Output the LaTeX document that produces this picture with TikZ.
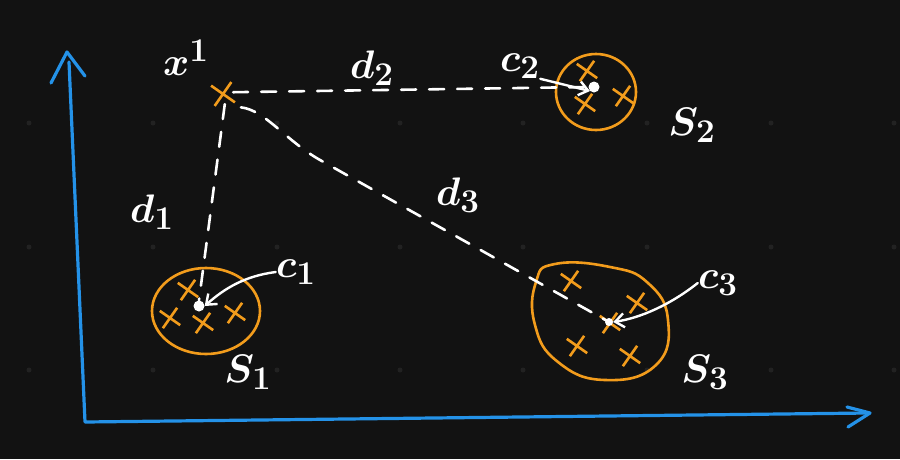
\documentclass[tikz,border=0pt]{standalone}
\usetikzlibrary{shapes.misc,arrows.meta}
\definecolor{bg}{RGB}{18,18,18}
\definecolor{ora}{RGB}{242,156,28}
\definecolor{axblue}{RGB}{36,146,232}
\definecolor{griddot}{RGB}{34,34,34}
\begin{document}
\begin{tikzpicture}[x=1pt,y=-1pt,
  axis/.style={draw=axblue,line width=3.2pt,line cap=round,line join=round},
  hull/.style={draw=ora,line width=2.6pt},
  pt/.style={cross out,draw=ora,line width=2.6pt,minimum size=15pt,inner sep=0pt,rotate=10},
  cen/.style={circle,fill=white,inner sep=0pt,minimum size=11pt},
  dist/.style={draw=white,line width=2.6pt,line cap=round,dash pattern=on 15pt off 13pt},
  lbl/.style={text=white,font=\Huge\boldmath,scale=1.6,inner sep=0pt},
  ptr/.style={draw=white,line width=2.4pt,line cap=round,-{Straight Barb[length=9pt,width=14pt,line width=2.4pt]}}
]
\fill[bg] (0,0) rectangle (900,459);
\useasboundingbox (0,0) rectangle (900,459);
% faint board dots
\foreach \gx in {29,153,277,400,523,647,771,894}
  \foreach \gy in {123,247,370}
    \fill[griddot] (\gx,\gy) circle (2.5pt);
% axes
\coordinate (ytop) at (69,62);
\coordinate (orig) at (85,422);
\coordinate (xend) at (868,413);
\coordinate (ytip) at (67,52);
\coordinate (xtip) at (870,413);
\draw[axis] (ytop) -- (orig) -- (xend);
\draw[axis] (51,83) -- (ytip) -- (85,76);
\draw[axis] (847,407) -- (xtip) -- (848,427);
% cluster outlines
\draw[hull] (206,311) ellipse (54pt and 43pt);
\draw[hull] (596,92) ellipse (40pt and 38pt);
\draw[hull] plot[smooth cycle,tension=0.8] coordinates {(555,264) (610,267) (648,283) (668,320) (656,365) (605,380) (558,362) (535,325) (536,282)};
% points
\node[pt] (p11) at (188,290) {};
\node[pt] (p12) at (170,318) {};
\node[pt] (p13) at (203,323) {};
\node[pt] (p14) at (235,313) {};
\node[pt] (p21) at (587,71) {};
\node[pt] (p22) at (623,96) {};
\node[pt] (p23) at (585,104) {};
\node[pt] (p31) at (571,281) {};
\node[pt] (p32) at (637,303) {};
\node[pt] (p33) at (577,346) {};
\node[pt] (p34) at (630,356) {};
\node[pt] (p35) at (610,323) {};
% centroids
\node[cen] (c1) at (199,306) {};
\node[cen] (c2) at (594,87) {};
\node[circle,fill=white,inner sep=0pt,minimum size=8pt] (c3) at (609,322) {};
% the point x
\node[pt,minimum size=18pt] (x) at (223,94) {};
% distance lines
\draw[dist] (x.east) -- (c2.west);
\draw[dist] (x.south) -- (c1.north);
\coordinate (bend) at (320,160);
\draw[dist] (x.south east) ++(6,5) .. controls (265,110) and (285,140) .. (bend) -- (c3);
% labels
\node[lbl] (xl) at (186,58) {$x^{1}$};
\node[lbl] (d1) at (152,212) {$d_{1}$};
\node[lbl] (d2) at (372,68) {$d_{2}$};
\node[lbl] (d3) at (458,195) {$d_{3}$};
\node[lbl] (c1l) at (296,272) {$c_{1}$};
\node[lbl] (c2l) at (520,66) {$c_{2}$};
\node[lbl] (c3l) at (718,283) {$c_{3}$};
\node[lbl] (s1) at (248,372) {$S_{1}$};
\node[lbl] (s2) at (692,125) {$S_{2}$};
\node[lbl] (s3) at (705,372) {$S_{3}$};
% pointers
\draw[ptr] (c1l.west) .. controls (245,276) and (225,288) .. (c1.east);
\draw[ptr] (c2l.south east) -- (c2.south west);
\draw[ptr] (c3l.west) .. controls (670,305) and (640,318) .. (c3.east);
\end{tikzpicture}
\end{document}
